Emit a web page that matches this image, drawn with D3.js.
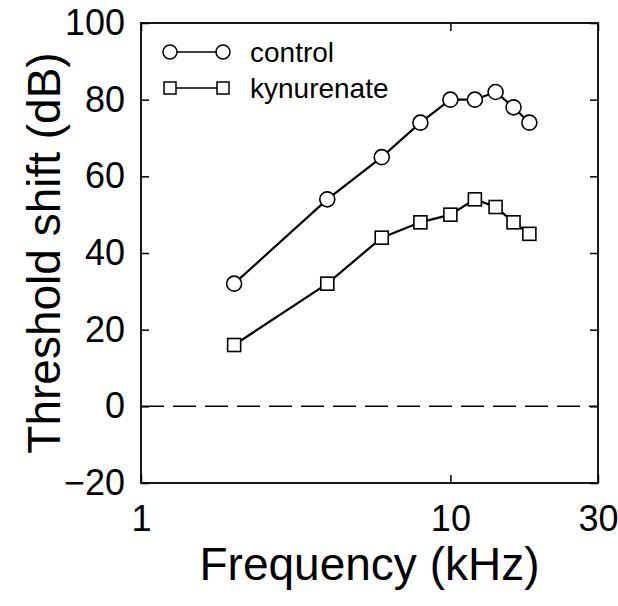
<!DOCTYPE html>
<html>
<head>
<meta charset="utf-8">
<script src="https://cdn.jsdelivr.net/npm/d3@7"></script>
<style>
  body { margin: 0; background: #fff; }
  text { font-family: "Liberation Sans", Arial, sans-serif; fill: #000; }
</style>
</head>
<body>
<div id="viz"></div>
<script>
// frequencies (kHz)
var freqs = [2, 4, 6, 8, 10, 12, 14, 16, 18];
// threshold shift (dB)
var control = [32, 54, 65, 74, 80, 80, 82, 78, 74];
var kynurenate = [16, 32, 44, 48, 50, 54, 52, 48, 45];

var xTicks = [1, 10, 30];
var yTicks = [-20, 0, 20, 40, 60, 80, 100];

var margin = { top: 23, right: 20, bottom: 123, left: 141 },
  width = 618 - margin.left - margin.right,
  height = 606 - margin.top - margin.bottom;

var svg = d3
  .select("#viz")
  .append("svg")
  .attr("width", 618)
  .attr("height", 606)
  .append("g")
  .attr("transform", "translate(" + margin.left + "," + margin.top + ")");

var x = d3.scaleLog().domain([1, 30]).range([0, width]);
var y = d3.scaleLinear().domain([-20, 100]).range([height, 0]);

// inward ticks on all four sides
var tickLen = 8;
svg
  .append("g")
  .attr("transform", "translate(0," + height + ")")
  .call(d3.axisBottom(x).tickValues(xTicks).tickSizeInner(-tickLen).tickSizeOuter(0).tickPadding(22).tickFormat(d3.format("d")))
  .call((g) => g.select(".domain").remove())
  .selectAll("text")
  .style("font-size", "36px");

svg
  .append("g")
  .call(d3.axisTop(x).tickValues(xTicks).tickSizeInner(-tickLen).tickSizeOuter(0).tickFormat(""))
  .call((g) => g.select(".domain").remove());

svg
  .append("g")
  .call(d3.axisLeft(y).tickValues(yTicks).tickSizeInner(-tickLen).tickSizeOuter(0).tickPadding(16))
  .call((g) => g.select(".domain").remove())
  .selectAll("text")
  .style("font-size", "36px");

svg
  .append("g")
  .attr("transform", "translate(" + width + ",0)")
  .call(d3.axisRight(y).tickValues(yTicks).tickSizeInner(-tickLen).tickSizeOuter(0).tickFormat(""))
  .call((g) => g.select(".domain").remove());

svg.selectAll(".tick line").attr("stroke", "#000").attr("stroke-width", 1.5);

// frame
svg
  .append("rect")
  .attr("x", 0)
  .attr("y", 0)
  .attr("width", width)
  .attr("height", height)
  .attr("fill", "none")
  .attr("stroke", "#000")
  .attr("stroke-width", 1.8);

// zero line
svg
  .append("line")
  .attr("x1", 0)
  .attr("x2", width)
  .attr("y1", y(0))
  .attr("y2", y(0))
  .attr("stroke", "#000")
  .attr("stroke-width", 1.5)
  .attr("stroke-dasharray", "23,9");

var line = d3
  .line()
  .x((d, i) => x(freqs[i]))
  .y((d) => y(d));

// series
svg.append("path").datum(control).attr("d", line).attr("fill", "none").attr("stroke", "#000").attr("stroke-width", 2.2);
svg.append("path").datum(kynurenate).attr("d", line).attr("fill", "none").attr("stroke", "#000").attr("stroke-width", 2.2);

svg
  .selectAll(".circ")
  .data(control)
  .enter()
  .append("circle")
  .attr("class", "circ")
  .attr("cx", (d, i) => x(freqs[i]))
  .attr("cy", (d) => y(d))
  .attr("r", 7.5)
  .attr("fill", "#fff")
  .attr("stroke", "#000")
  .attr("stroke-width", 1.6);

var sq = 13;
svg
  .selectAll(".sq")
  .data(kynurenate)
  .enter()
  .append("rect")
  .attr("class", "sq")
  .attr("x", (d, i) => x(freqs[i]) - sq / 2)
  .attr("y", (d) => y(d) - sq / 2)
  .attr("width", sq)
  .attr("height", sq)
  .attr("fill", "#fff")
  .attr("stroke", "#000")
  .attr("stroke-width", 1.6);

// legend
var legend = svg.append("g").attr("transform", "translate(29,29)");
legend.append("line").attr("x1", 0).attr("x2", 53).attr("stroke", "#000").attr("stroke-width", 1.5);
legend.selectAll("circle").data([0, 53]).enter().append("circle")
  .attr("cx", (d) => d).attr("cy", 0).attr("r", 7)
  .attr("fill", "#fff").attr("stroke", "#000").attr("stroke-width", 1.5);
legend.append("text").attr("x", 80).attr("y", 10).style("font-size", "28px").text("control");

var legend2 = svg.append("g").attr("transform", "translate(29,65)");
legend2.append("line").attr("x1", 0).attr("x2", 53).attr("stroke", "#000").attr("stroke-width", 1.5);
legend2.selectAll("rect").data([0, 53]).enter().append("rect")
  .attr("x", (d) => d - 6).attr("y", -6).attr("width", 12).attr("height", 12)
  .attr("fill", "#fff").attr("stroke", "#000").attr("stroke-width", 1.5);
legend2.append("text").attr("x", 80).attr("y", 10).style("font-size", "28px").text("kynurenate");

// axis titles
svg
  .append("text")
  .attr("transform", "translate(" + width / 2 + "," + (height + 97) + ")")
  .style("text-anchor", "middle")
  .style("font-size", "46px")
  .text("Frequency (kHz)");

svg
  .append("text")
  .attr("transform", "translate(" + (60 - margin.left) + "," + height / 2 + ") rotate(-90)")
  .style("text-anchor", "middle")
  .style("font-size", "46px")
  .text("Threshold shift (dB)");
</script>
</body>
</html>
